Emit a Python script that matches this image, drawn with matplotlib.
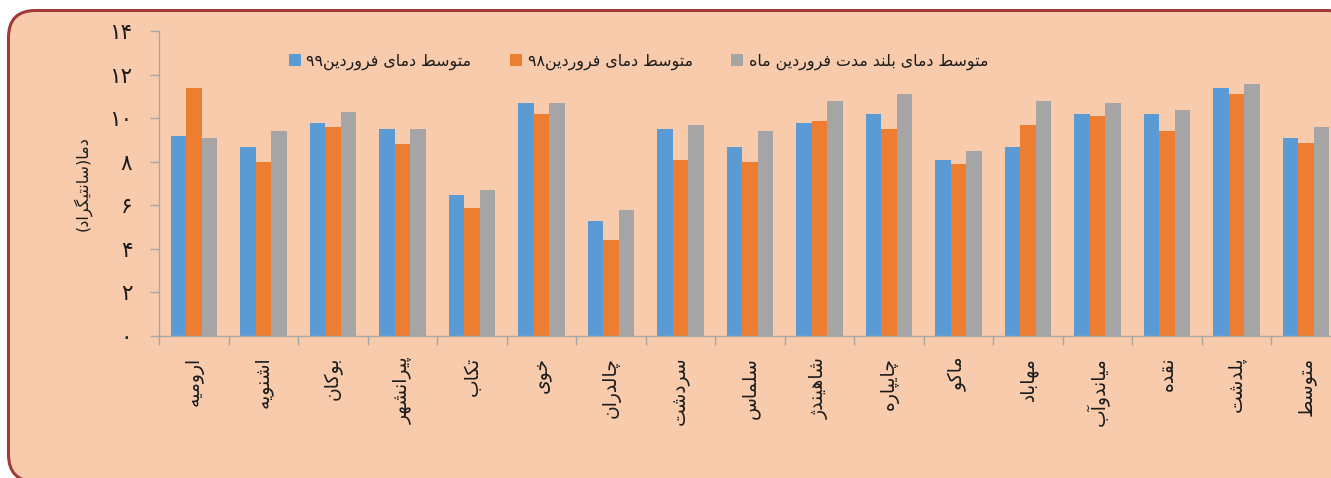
import re
import numpy as np
import matplotlib
matplotlib.use("Agg")
import matplotlib.pyplot as plt
from matplotlib.patches import FancyBboxPatch

# ---------------- data ----------------
categories = ['ارومیه', 'اشنویه', 'بوکان', 'پیرانشهر', 'تکاب', 'خوی', 'چالدران', 'سردشت',
              'سلماس', 'شاهیندژ', 'چایپاره', 'ماکو', 'مهاباد', 'میاندوآب', 'نقده', 'پلدشت', 'متوسط']
series_names = ['متوسط دمای فروردین۹۹', 'متوسط دمای فروردین۹۸', 'متوسط دمای بلند مدت فروردین ماه']
temp_99 = [9.2, 8.7, 9.8, 9.5, 6.5, 10.7, 5.3, 9.5, 8.7, 9.8, 10.2, 8.1, 8.7, 10.2, 10.2, 11.4, 9.1]
temp_98 = [11.4, 8.0, 9.6, 8.8, 5.9, 10.2, 4.4, 8.1, 8.0, 9.9, 9.5, 7.9, 9.7, 10.1, 9.4, 11.1, 8.85]
temp_long = [9.1, 9.4, 10.3, 9.5, 6.7, 10.7, 5.8, 9.7, 9.4, 10.8, 11.1, 8.5, 10.8, 10.7, 10.4, 11.6, 9.6]
y_ticks = [0, 2, 4, 6, 8, 10, 12, 14]
y_tick_labels = ['۰', '۲', '۴', '۶', '۸', '۱۰', '۱۲', '۱۴']
y_label = 'دما(سانتیگراد)'

# ---------------- minimal Persian shaping ----------------
FORMS = {
    '\u0622': ('\uFE81', '\uFE82', None, None),
    '\u0627': ('\uFE8D', '\uFE8E', None, None),
    '\u0628': ('\uFE8F', '\uFE90', '\uFE91', '\uFE92'),
    '\u067E': ('\uFB56', '\uFB57', '\uFB58', '\uFB59'),
    '\u062A': ('\uFE95', '\uFE96', '\uFE97', '\uFE98'),
    '\u062B': ('\uFE99', '\uFE9A', '\uFE9B', '\uFE9C'),
    '\u062C': ('\uFE9D', '\uFE9E', '\uFE9F', '\uFEA0'),
    '\u0686': ('\uFB7A', '\uFB7B', '\uFB7C', '\uFB7D'),
    '\u062D': ('\uFEA1', '\uFEA2', '\uFEA3', '\uFEA4'),
    '\u062E': ('\uFEA5', '\uFEA6', '\uFEA7', '\uFEA8'),
    '\u062F': ('\uFEA9', '\uFEAA', None, None),
    '\u0630': ('\uFEAB', '\uFEAC', None, None),
    '\u0631': ('\uFEAD', '\uFEAE', None, None),
    '\u0632': ('\uFEAF', '\uFEB0', None, None),
    '\u0698': ('\uFB8A', '\uFB8B', None, None),
    '\u0633': ('\uFEB1', '\uFEB2', '\uFEB3', '\uFEB4'),
    '\u0634': ('\uFEB5', '\uFEB6', '\uFEB7', '\uFEB8'),
    '\u0635': ('\uFEB9', '\uFEBA', '\uFEBB', '\uFEBC'),
    '\u0636': ('\uFEBD', '\uFEBE', '\uFEBF', '\uFEC0'),
    '\u0637': ('\uFEC1', '\uFEC2', '\uFEC3', '\uFEC4'),
    '\u0638': ('\uFEC5', '\uFEC6', '\uFEC7', '\uFEC8'),
    '\u0639': ('\uFEC9', '\uFECA', '\uFECB', '\uFECC'),
    '\u063A': ('\uFECD', '\uFECE', '\uFECF', '\uFED0'),
    '\u0641': ('\uFED1', '\uFED2', '\uFED3', '\uFED4'),
    '\u0642': ('\uFED5', '\uFED6', '\uFED7', '\uFED8'),
    '\u06A9': ('\uFB8E', '\uFB8F', '\uFB90', '\uFB91'),
    '\u06AF': ('\uFB92', '\uFB93', '\uFB94', '\uFB95'),
    '\u0644': ('\uFEDD', '\uFEDE', '\uFEDF', '\uFEE0'),
    '\u0645': ('\uFEE1', '\uFEE2', '\uFEE3', '\uFEE4'),
    '\u0646': ('\uFEE5', '\uFEE6', '\uFEE7', '\uFEE8'),
    '\u0648': ('\uFEED', '\uFEEE', None, None),
    '\u0647': ('\uFEE9', '\uFEEA', '\uFEEB', '\uFEEC'),
    '\u06CC': ('\uFBFC', '\uFBFD', '\uFBFE', '\uFBFF'),
}
LAM_ALEF = {'\u0627': ('\uFEFB', '\uFEFC'), '\u0622': ('\uFEF5', '\uFEF6')}


def _jt(c):
    if c is None or c not in FORMS:
        return None
    return 'D' if FORMS[c][2] else 'R'


def fa(text):
    chars = list(text)
    n = len(chars)
    out = []
    i = 0
    while i < n:
        c = chars[i]
        prev = chars[i - 1] if i > 0 else None
        nxt = chars[i + 1] if i < n - 1 else None
        if c not in FORMS:
            out.append(c)
            i += 1
            continue
        jp = _jt(prev) == 'D'
        if c == '\u0644' and nxt in LAM_ALEF:
            out.append(LAM_ALEF[nxt][1 if jp else 0])
            i += 2
            continue
        jn = _jt(c) == 'D' and _jt(nxt) is not None
        iso, fin, ini, med = FORMS[c]
        if jp and jn:
            out.append(med)
        elif jp:
            out.append(fin)
        elif jn:
            out.append(ini)
        else:
            out.append(iso)
        i += 1
    vis = ''.join(out)[::-1]
    vis = re.sub(r'[0-9\u06F0-\u06F9]+', lambda m: m.group(0)[::-1], vis)
    vis = vis.translate(str.maketrans({'(': ')', ')': '('}))
    return vis


# ---------------- figure ----------------
plt.rcParams['font.family'] = ['DejaVu Sans']
W, H = 1331, 478
fig = plt.figure(figsize=(W / 100, H / 100), dpi=100, facecolor='white')

# background rounded frame (pixel coordinates)
bg = fig.add_axes([0, 0, 1, 1], zorder=0)
bg.set_xlim(0, W)
bg.set_ylim(H, 0)
bg.axis('off')
frame = FancyBboxPatch((8.5, 10.5), 1345, 471, boxstyle='round,pad=0,rounding_size=27',
                       facecolor='#F8CBAD', edgecolor='#A03A38', linewidth=2.2, clip_on=False)
bg.add_patch(frame)

left_px, right_px, top_px, bot_px = 159.3, 159.3 + 17 * 69.5, 31.3, 336.0
ax = fig.add_axes([left_px / W, 1 - bot_px / H, (right_px - left_px) / W, (bot_px - top_px) / H], zorder=1)
ax.set_facecolor('none')

colors = ['#5B9BD5', '#ED7D31', '#A5A5A5']
x = np.arange(len(categories))
bw = 0.222
handles = []
for k, (vals, col) in enumerate(zip([temp_99, temp_98, temp_long], colors)):
    b = ax.bar(x + (k - 1) * bw, vals, width=bw, color=col, linewidth=0)
    handles.append(b)

ax.set_xlim(-0.5, len(categories) - 0.5)
ax.set_ylim(0, 14)

for s in ['top', 'right']:
    ax.spines[s].set_visible(False)
for s in ['left', 'bottom']:
    ax.spines[s].set_color('#A6A6A6')
    ax.spines[s].set_linewidth(1.0)

ax.set_yticks(y_ticks)
ax.set_yticklabels(y_tick_labels, fontsize=15.5, color='#1a1a1a')
ax.tick_params(axis='y', direction='out', length=6.5, width=1.0, color='#A6A6A6', pad=13)

ax.set_xticks(x)
ax.set_xticklabels([fa(c) for c in categories], rotation=90, ha='center', va='top',
                   fontsize=13.5, color='#1a1a1a')
ax.set_xticks(np.arange(-0.5, len(categories), 1.0), minor=True)
ax.tick_params(axis='x', which='major', length=0, pad=15)
ax.tick_params(axis='x', which='minor', direction='out', length=6.5, width=1.0, color='#A6A6A6')

ax.set_ylabel(fa(y_label), fontsize=11.5, color='#1a1a1a', rotation=90, va='center', ha='center')
ax.yaxis.set_label_coords((82 - left_px) / (right_px - left_px), 0.5)

leg = ax.legend(handles, [fa(s) for s in series_names], loc='center', ncol=3,
                bbox_to_anchor=(638.5 / W, 1 - 62 / H), bbox_transform=fig.transFigure,
                frameon=False, fontsize=11.4, handlelength=0.76, handleheight=0.76,
                handletextpad=0.35, columnspacing=2.45, borderpad=0)
for t in leg.get_texts():
    t.set_color('#1a1a1a')

fig.savefig('out.png', dpi=100, facecolor='white')
